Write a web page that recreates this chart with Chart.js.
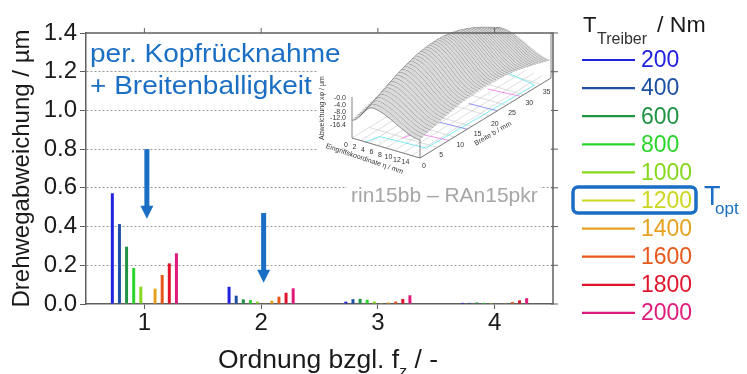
<!DOCTYPE html>
<html>
<head>
<meta charset="utf-8">
<title>Drehwegabweichung</title>
<script src="https://cdn.jsdelivr.net/npm/chart.js"></script>
<style>
  body { margin: 0; background: #fff; }
  #wrap { position: relative; width: 747px; height: 374px; }
</style>
</head>
<body>
<div id="wrap"><canvas id="miGrafico" width="747" height="374"></canvas></div>
<script>
// Ordnung bzgl. f_z (x-Achse)
var ordnung = ['1', '2', '3', '4'];
// Treibermoment T_Treiber / Nm
var treiber = [200, 400, 600, 800, 1000, 1200, 1400, 1600, 1800, 2000];
// Drehwegabweichung / µm je Treibermoment (Ordnung 1..4)
var w200  = [0.572, 0.089, 0.012, 0.006];
var w400  = [0.413, 0.043, 0.025, 0.006];
var w600  = [0.296, 0.024, 0.027, 0.008];
var w800  = [0.186, 0.020, 0.022, 0.006];
var w1000 = [0.089, 0.012, 0.013, 0.005];
var w1200 = [0.002, 0.003, 0.004, 0.003];
var w1400 = [0.079, 0.017, 0.008, 0.004];
var w1600 = [0.150, 0.038, 0.013, 0.010];
var w1800 = [0.210, 0.058, 0.026, 0.019];
var w2000 = [0.262, 0.081, 0.045, 0.030];
var yTicks = [0, 0.2, 0.4, 0.6, 0.8, 1.0, 1.2, 1.4];
// Pfeile (Ordnungsindex, von, bis)
var pfeilOrdnung = [0, 1];
var pfeilVon = [0.80, 0.47];
var pfeilBis = [0.44, 0.11];

var werte = [w200, w400, w600, w800, w1000, w1200, w1400, w1600, w1800, w2000];
var farben = ['#2121e0', '#1d4fa3', '#1f9442', '#2cd52c', '#86d81c',
              '#cbd61f', '#e6a11f', '#e8581b', '#e0152d', '#e01a7b'];
var blau = '#1a6fc4';
var schrift = '"Liberation Sans", Arial, Helvetica, sans-serif';
Chart.defaults.font.family = schrift;

// Text leicht in die Breite gezogen (wie im Original)
function texto(ctx, str, x, y, sx) {
    ctx.save();
    ctx.translate(x, y);
    ctx.scale(sx, 1);
    ctx.fillText(str, 0, 0);
    ctx.restore();
}

/*=============================================
=            Zusatzelemente (Plugin)           =
=============================================*/
function zeichneEinschub(ctx) {
    // kleines 3D-Bild der Flankenmodifikation
    var O = {x: 352, y: 138}, E = {x: 68, y: 20}, B = {x: 131, y: -80};
    function s(t) { return t * t * (3 - 2 * t); }
    function prof(e) {
        if (e < 0.3) return 0.5 + 0.5 * s(e / 0.3);
        return 1 - 0.5 * s((e - 0.3) / 0.7);
    }
    function h(e, b) { return (36 + 28 * Math.sin(Math.PI * b)) * prof(e); }
    function P(e, b, z) { return {x: O.x + e * E.x + b * B.x, y: O.y + e * E.y + b * B.y - z}; }

    ctx.save();
    ctx.fillStyle = '#fff';
    ctx.fillRect(318, 34, 233, 145);

    // Boden
    ctx.lineWidth = 0.6;
    ctx.strokeStyle = '#c8c8c8';
    for (var bb = 0; bb <= 38; bb += 5) {
        var a = P(0, bb / 38, 0), c = P(1, bb / 38, 0);
        ctx.beginPath(); ctx.moveTo(a.x, a.y); ctx.lineTo(c.x, c.y); ctx.stroke();
    }
    for (var ee = 0; ee <= 16; ee += 2) {
        var a2 = P(ee / 16, 0, 0), c2 = P(ee / 16, 1, 0);
        ctx.beginPath(); ctx.moveTo(a2.x, a2.y); ctx.lineTo(c2.x, c2.y); ctx.stroke();
    }
    function linie(pkte, farbe) {
        ctx.strokeStyle = farbe; ctx.lineWidth = 0.9; ctx.beginPath();
        pkte.forEach(function(p, i) { var q = P(p[0], p[1], 0); if (i) ctx.lineTo(q.x, q.y); else ctx.moveTo(q.x, q.y); });
        ctx.stroke();
    }
    linie([[0.2, 0], [0.25, 0.08], [0.9, 0.1], [0.95, 0.9], [0.3, 0.95]], '#6ee6ee');
    linie([[0.5, 0.12], [0.55, 0.2], [1, 0.22]], '#ee88ee');
    linie([[0.55, 0.75], [1, 0.77]], '#ee88ee');
    linie([[0.6, 0.35], [1, 0.36]], '#8888ee');
    linie([[0.6, 0.58], [1, 0.59]], '#8888ee');

    // Achsenrahmen
    ctx.strokeStyle = '#666'; ctx.lineWidth = 0.8;
    var f0 = P(0, 0, 0), f1 = P(1, 0, 0), f2 = P(1, 1, 0);
    ctx.beginPath(); ctx.moveTo(f0.x, f0.y - 41); ctx.lineTo(f0.x, f0.y); ctx.lineTo(f1.x, f1.y); ctx.lineTo(f2.x, f2.y); ctx.lineTo(f2.x, 34); ctx.stroke();
    ctx.beginPath(); ctx.moveTo(f1.x, f1.y); ctx.lineTo(f1.x, f1.y - 26); ctx.stroke();

    // Flaeche, von hinten nach vorn
    var N = 50, M = 40;
    for (var i = N - 1; i >= 0; i--) {
        var b0 = i / N, b1 = (i + 1) / N;
        ctx.beginPath();
        for (var j = 0; j <= M; j++) { var p = P(j / M, b1, h(j / M, b1)); if (j) ctx.lineTo(p.x, p.y); else ctx.moveTo(p.x, p.y); }
        for (var k = M; k >= 0; k--) { var q = P(k / M, b0, h(k / M, b0)); ctx.lineTo(q.x, q.y); }
        ctx.closePath();
        ctx.fillStyle = '#dadada';
        ctx.fill();
        ctx.beginPath();
        for (var m = 0; m <= M; m++) { var r = P(m / M, b0, h(m / M, b0)); if (m) ctx.lineTo(r.x, r.y); else ctx.moveTo(r.x, r.y); }
        ctx.strokeStyle = '#505050'; ctx.lineWidth = 0.6; ctx.stroke();
    }

    // kleine Beschriftungen
    ctx.fillStyle = '#333';
    ctx.font = '7px ' + schrift;
    ctx.textAlign = 'right'; ctx.textBaseline = 'middle';
    ['-0.0', '-4.0', '-8.0', '-12.0', '-16.4'].forEach(function(t, i) { ctx.fillText(t, 346, 98 + i * 6.8); });
    ctx.textAlign = 'center';
    for (var n = 0; n <= 14; n += 2) { var l = P(n / 16, 0, 0); ctx.fillText(String(n), l.x - 6, l.y + 7); }
    ctx.textAlign = 'left';
    for (var bm = 0; bm <= 35; bm += 5) { var lb = P(1, bm / 38, 0); ctx.fillText(String(bm), lb.x + 2, lb.y + 8); }
    ctx.save(); ctx.translate(326, 146); ctx.rotate(Math.atan2(28, 83));
    ctx.fillText('Eingriffskoordinate \u03b7 / mm', 0, 0); ctx.restore();
    ctx.save(); ctx.translate(475, 144); ctx.rotate(Math.atan2(-25, 43));
    ctx.fillText('Breite b / mm', 0, 0); ctx.restore();
    ctx.save(); ctx.translate(322, 140); ctx.rotate(-Math.PI / 2);
    ctx.fillText('Abweichung x\u03c6 / \u00b5m', 0, 0); ctx.restore();

    // Kennung
    ctx.fillStyle = '#fff';
    ctx.fillRect(347, 179, 193, 22);
    ctx.fillStyle = '#a6a6a6';
    ctx.font = '21px ' + schrift;
    ctx.textAlign = 'left'; ctx.textBaseline = 'alphabetic';
    ctx.fillText('rin15bb \u2013 RAn15pkr', 351, 202);
    ctx.restore();
}

var extras = {
    id: 'extras',
    afterDatasetsDraw: function(chart) {
        var ctx = chart.ctx, a = chart.chartArea;
        var xs = chart.scales.x, ys = chart.scales.y;
        zeichneEinschub(ctx);

        ctx.save();
        // Rahmen oben/rechts
        ctx.strokeStyle = '#606060'; ctx.lineWidth = 1.5;
        ctx.beginPath(); ctx.moveTo(a.left, a.top); ctx.lineTo(a.right, a.top); ctx.lineTo(a.right, a.bottom); ctx.stroke();
        ctx.lineWidth = 1;
        ordnung.forEach(function(o, i) {
            var x = xs.getPixelForValue(i);
            ctx.beginPath(); ctx.moveTo(x, a.top); ctx.lineTo(x, a.top - 5); ctx.stroke();
        });
        yTicks.forEach(function(v) {
            var y = ys.getPixelForValue(v);
            ctx.beginPath(); ctx.moveTo(a.right - 2, y); ctx.lineTo(a.right + 5, y); ctx.stroke();
        });

        // Pfeile
        ctx.fillStyle = blau;
        pfeilOrdnung.forEach(function(o, i) {
            var x = xs.getPixelForValue(o) + 2.5;
            var y0 = ys.getPixelForValue(pfeilVon[i]);
            var y1 = ys.getPixelForValue(pfeilBis[i]);
            ctx.fillRect(x - 2.5, y0, 5, y1 - y0 - 12);
            ctx.beginPath(); ctx.moveTo(x - 6.5, y1 - 13); ctx.lineTo(x + 6.5, y1 - 13); ctx.lineTo(x, y1); ctx.closePath(); ctx.fill();
        });

        // Beschriftung im Diagramm
        ctx.font = '25px ' + schrift;
        ctx.textAlign = 'left'; ctx.textBaseline = 'alphabetic';
        texto(ctx, 'per. Kopfr\u00fccknahme', 90, 62, 1.12);
        texto(ctx, '+ Breitenballigkeit', 90, 94, 1.12);

        // x-Achsentitel mit Index
        ctx.fillStyle = '#1a1a1a';
        var sx = 1.06;
        var t1 = 'Ordnung bzgl. f', t2 = ' / -';
        ctx.font = '25px ' + schrift;
        var w1 = ctx.measureText(t1).width * sx, w2 = ctx.measureText(t2).width * sx;
        ctx.font = '15px ' + schrift;
        var wz = ctx.measureText('z').width * sx;
        var x0 = 218;
        ctx.font = '25px ' + schrift;
        texto(ctx, t1, x0, 368, sx);
        texto(ctx, t2, x0 + w1 + wz, 368, sx);
        ctx.font = '15px ' + schrift;
        texto(ctx, 'z', x0 + w1, 376, sx);

        // Legende
        ctx.fillStyle = '#1a1a1a';
        ctx.font = '22px ' + schrift;
        ctx.fillText('T', 583, 32);
        ctx.font = '16px ' + schrift;
        ctx.fillStyle = '#333';
        ctx.fillText('Treiber', 597, 44);
        ctx.fillStyle = '#1a1a1a';
        ctx.font = '22px ' + schrift;
        texto(ctx, '/ Nm', 657, 32, 1.05);
        ctx.textBaseline = 'middle';
        ctx.font = '23px ' + schrift;
        treiber.forEach(function(t, i) {
            var y = 60 + i * 28.1;
            ctx.strokeStyle = farben[i]; ctx.lineWidth = 2.2;
            ctx.beginPath(); ctx.moveTo(582, y); ctx.lineTo(635, y); ctx.stroke();
            ctx.fillStyle = farben[i];
            ctx.fillText(String(t), 641, y + 1);
        });
        // T_opt Markierung
        ctx.strokeStyle = blau; ctx.lineWidth = 3.5;
        ctx.beginPath(); ctx.roundRect(573, 187, 123, 26, 5); ctx.stroke();
        ctx.fillStyle = blau;
        ctx.textBaseline = 'alphabetic';
        ctx.font = '27px ' + schrift;
        ctx.fillText('T', 704, 205);
        ctx.font = '17px ' + schrift;
        ctx.fillText('opt', 715, 214);
        ctx.restore();
    }
};
/*=====  Ende Zusatzelemente  ======*/

var mostrar = document.getElementById('miGrafico');
var grafico = new Chart(mostrar, {
    type: 'bar',
    data: {
        labels: ordnung,
        datasets: treiber.map(function(t, i) {
            return {
                label: String(t),
                data: werte[i],
                backgroundColor: farben[i],
                borderWidth: 0,
                barPercentage: 0.42,
                categoryPercentage: 0.61
            };
        })
    },
    options: {
        responsive: false,
        animation: false,
        layout: { padding: { left: 0, top: 33, right: 194, bottom: 0 } },
        plugins: { legend: { display: false }, tooltip: { enabled: false } },
        scales: {
            x: {
                grid: { drawOnChartArea: false, offset: false, tickLength: 5, tickColor: '#606060', lineWidth: 1 },
                border: { color: '#606060', width: 1.5 },
                ticks: { font: { size: 24 }, color: '#1a1a1a', padding: 0, maxRotation: 0 },
                afterFit: function(s) { s.height = 70; }
            },
            y: {
                min: 0,
                max: 1.4,
                ticks: {
                    stepSize: 0.2,
                    font: { size: 24 },
                    color: '#1a1a1a',
                    padding: 3,
                    callback: function(v) { return Number(v).toFixed(1); }
                },
                grid: {
                    color: function(c) {
                        var v = c.tick ? c.tick.value : 0;
                        return (Math.abs(v) < 1e-6 || Math.abs(v - 1.4) < 1e-6) ? 'rgba(0,0,0,0)' : '#9a9a9a';
                    },
                    tickColor: '#606060',
                    tickLength: 6,
                    lineWidth: 1
                },
                border: { color: '#606060', width: 1.5, dash: [2, 2] },
                title: {
                    display: true,
                    text: 'Drehwegabweichung / \u00b5m',
                    font: { size: 24 },
                    color: '#1a1a1a',
                    padding: { top: 8, bottom: 0 }
                },
                afterFit: function(s) { s.width = 86; }
            }
        }
    },
    plugins: [extras]
});
</script>
</body>
</html>
